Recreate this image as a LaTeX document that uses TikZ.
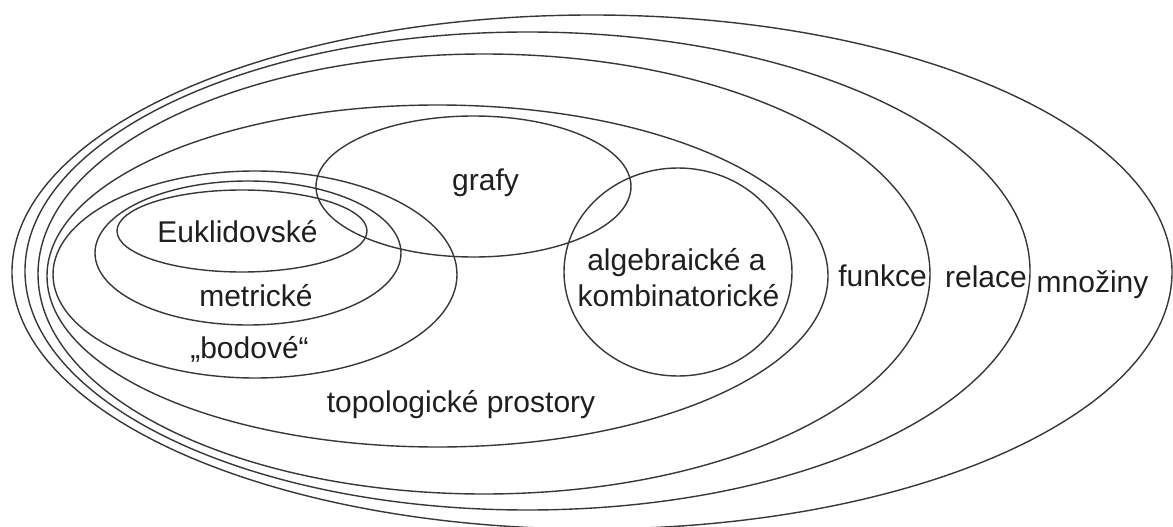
\documentclass[tikz,border=0pt]{standalone}
\usepackage{fontspec}
\setmainfont{Liberation Sans}
\begin{document}
\begin{tikzpicture}[x=1pt,y=-1pt,
  setline/.style={draw=black!78,line width=1.4pt},
  lbl/.style={anchor=base,inner sep=0pt,text=black!88,font=\fontsize{30}{35}\selectfont}]
\useasboundingbox (0,0) rectangle (1173,527);
\fill[white] (0,0) rectangle (1173,527);
% outer sets
\draw[setline] (592,272) ellipse [x radius=580pt, y radius=257pt];   % mnoziny
\draw[setline] (527.5,271) ellipse [x radius=502.5pt, y radius=239pt]; % relace
\draw[setline] (484,274) ellipse [x radius=446pt, y radius=220pt];   % funkce
\draw[setline] (437.5,276) ellipse [x radius=390.5pt, y radius=171pt]; % topologicke
% inner sets
\draw[setline] (255,274.5) ellipse [x radius=202pt, y radius=103.5pt]; % bodove
\draw[setline] (248,253) ellipse [x radius=153pt, y radius=72pt];     % metricke
\draw[setline] (242,231) ellipse [x radius=125pt, y radius=41pt];     % euklidovske
\draw[setline] (473.5,186.5) ellipse [x radius=157.5pt, y radius=70.5pt]; % grafy
\draw[setline] (678,272) ellipse [x radius=114pt, y radius=104pt];    % algebraicke
% labels
\node[lbl] (eukl) at (237.5,242) {Euklidovské};
\node[lbl] (graf) at (485.5,190) {grafy};
\node[lbl] (metr) at (256,306.5) {metrické};
\node[lbl] (bod) at (249.5,358) {„bodové“};
\node[lbl] (topo) at (461,412) {topologické prostory};
\node[lbl] (alg1) at (676.5,270.6) {algebraické a};
\node[lbl] (alg2) at (678.5,306) {kombinatorické};
\node[lbl] (funk) at (882.5,286) {funkce};
\node[lbl] (rel) at (986,287) {relace};
\node[lbl] (mno) at (1092.5,292.5) {množiny};
\end{tikzpicture}
\end{document}
